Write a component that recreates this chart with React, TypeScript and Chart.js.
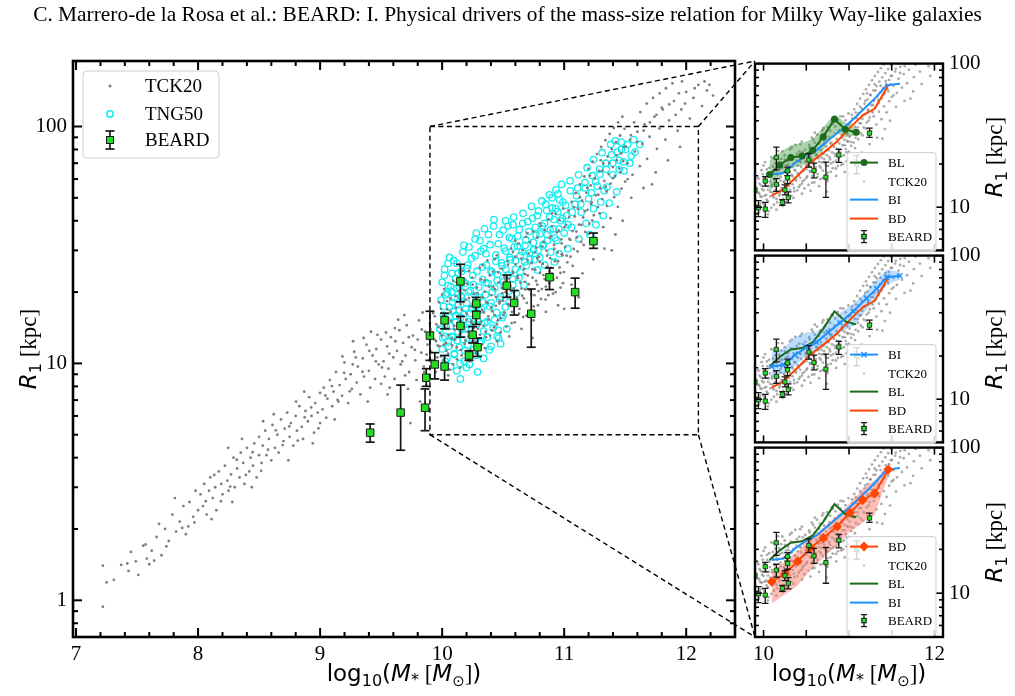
import React, { useEffect, useRef } from "react";
import { Chart, registerables } from "chart.js";

Chart.register(...registerables);

const SERIF = "'Liberation Serif', 'Times New Roman', serif";
const SANS = "'DejaVu Sans', 'Liberation Sans', sans-serif";

const FIGURE_TITLE =
  "C. Marrero-de la Rosa et al.: BEARD: I. Physical drivers of the mass-size relation for Milky Way-like galaxies";

// ---- axis ticks and ranges ----
const MAIN_MASS_TICKS = [7, 8, 9, 10, 11, 12];
const MAIN_RADIUS_TICKS = [1, 10, 100];
const ZOOM_MASS_TICKS = [10, 12];
const ZOOM_MASS_MARKS = [10, 10.5, 11, 11.5, 12];
const ZOOM_RADIUS_TICKS = [10, 100];

const MAIN_MASS_RANGE = [6.975, 12.4];
const MAIN_RADIUS_RANGE = [0.735, 189];
const ZOOM_MASS_RANGE = [9.9, 12.1];
const ZOOM_RADIUS_RANGE = [5, 100];

// ---- TCK20 sample: [log10 M*, R1 (kpc)] ----
const TCK20_LOW: [number, number][] = [
  [7.22, 0.94], [7.25, 1.19], [7.22, 1.4], [7.37, 1.41], [7.42, 1.43], [7.49, 1.46], [7.51, 1.28], [7.58, 1.5],
  [7.55, 1.7], [7.62, 1.62], [7.66, 1.85], [7.7, 1.55], [7.73, 2.0], [7.76, 1.78], [7.79, 2.3], [7.82, 1.95],
  [7.85, 2.15], [7.88, 2.5], [7.9, 1.9], [7.93, 2.6], [7.96, 2.25], [7.98, 2.9], [8.0, 2.4], [7.68, 2.1],
  [7.45, 1.6], [7.6, 1.42], [7.81, 2.7], [7.92, 2.05],
  [8.02, 2.8], [8.04, 2.5], [8.05, 3.1], [8.07, 2.3], [8.09, 2.9], [8.1, 3.3], [8.12, 2.7], [8.14, 3.0],
  [8.15, 2.4], [8.17, 3.5], [8.19, 3.1], [8.2, 2.8], [8.22, 3.7], [8.24, 3.2], [8.25, 2.9], [8.27, 3.4],
  [8.29, 4.0], [8.3, 3.0], [8.32, 3.6], [8.34, 3.3], [8.35, 4.2], [8.37, 3.8], [8.38, 3.1], [8.4, 4.4],
  [8.42, 3.5], [8.43, 4.0], [8.45, 3.7], [8.46, 4.6], [8.48, 3.3], [8.5, 4.1], [8.5, 4.9], [8.11, 2.2],
  [8.28, 2.6], [8.36, 4.8], [8.44, 3.0],
  [8.52, 3.8], [8.53, 4.5], [8.55, 5.2], [8.56, 4.1], [8.58, 4.8], [8.6, 3.9], [8.61, 5.5], [8.63, 4.4],
  [8.65, 5.0], [8.66, 4.2], [8.68, 5.8], [8.7, 4.7], [8.71, 5.3], [8.73, 6.2], [8.75, 4.9], [8.76, 5.6],
  [8.78, 4.5], [8.8, 6.0], [8.81, 5.2], [8.83, 6.6], [8.85, 5.4], [8.86, 4.8], [8.88, 6.3], [8.9, 5.7],
  [8.91, 7.2], [8.93, 6.0], [8.95, 5.1], [8.96, 6.8], [8.98, 6.2], [9.0, 7.5], [9.0, 5.6], [8.62, 6.1],
  [8.74, 3.9], [8.87, 7.6], [8.94, 4.6],
  [9.02, 6.4], [9.03, 7.9], [9.05, 5.9], [9.06, 7.1], [9.08, 8.5], [9.1, 6.6], [9.11, 7.6], [9.13, 9.2],
  [9.15, 6.9], [9.16, 8.1], [9.18, 7.3], [9.2, 10.1], [9.21, 8.6], [9.23, 6.8], [9.25, 9.0], [9.26, 7.8],
  [9.28, 11.2], [9.3, 8.3], [9.31, 9.7], [9.33, 7.4], [9.35, 10.5], [9.36, 8.8], [9.38, 12.0], [9.4, 9.3],
  [9.41, 7.9], [9.43, 10.8], [9.45, 8.6], [9.46, 11.5], [9.48, 9.9], [9.5, 12.6], [9.5, 8.2], [9.12, 5.8],
  [9.27, 12.4], [9.39, 6.9], [9.47, 13.2],
  [9.52, 10.2], [9.53, 8.8], [9.55, 11.8], [9.56, 9.5], [9.58, 12.9], [9.6, 10.6], [9.61, 8.6], [9.63, 11.3],
  [9.65, 13.8], [9.66, 9.9], [9.68, 12.2], [9.7, 10.8], [9.71, 14.5], [9.73, 9.2], [9.75, 11.7], [9.76, 13.1],
  [9.78, 10.3], [9.8, 12.6], [9.81, 15.2], [9.83, 11.1], [9.85, 9.7], [9.86, 13.6], [9.88, 12.0], [9.9, 10.4],
  [9.9, 14.8], [9.57, 7.9], [9.64, 15.3], [9.72, 7.8], [9.79, 8.5], [9.84, 16.4], [9.87, 8.1], [9.54, 13.5],
  [9.69, 16.0], [9.82, 6.9], [9.74, 5.6],
  [7.31, 1.22], [7.43, 1.33], [7.57, 1.72], [7.64, 1.47], [7.74, 1.69], [7.87, 2.02], [7.97, 2.13], [8.063, 2.62],
  [8.133, 3.38], [8.187, 2.62], [8.263, 3.02], [8.317, 3.92], [8.392, 3.38], [8.447, 4.22], [8.517, 3.52], [8.573, 4.32],
  [8.637, 5.22], [8.693, 4.52], [8.747, 5.42], [8.817, 4.72], [8.873, 5.92], [8.927, 6.52], [8.987, 5.32], [9.043, 7.32],
  [9.097, 8.02], [9.143, 7.02], [9.197, 9.12], [9.243, 7.62], [9.293, 10.6], [9.347, 9.22], [9.403, 11.3], [9.457, 10.2],
  [9.507, 9.62], [9.567, 11.0], [9.617, 12.4], [9.673, 10.2], [9.727, 12.9], [9.777, 11.4], [9.833, 13.9], [9.873, 10.9],
  [9.357, 12.8], [9.417, 13.6], [9.613, 14.1], [9.267, 9.9], [9.183, 10.7], [9.553, 7.4], [9.697, 8.9], [9.853, 9.2],
  [8.803, 6.9], [8.533, 5.7], [8.247, 4.4],
];

const TCK20_MID: [number, number][] = [
  [9.91, 11.2], [9.92, 13.5], [9.93, 9.8], [9.94, 15.8], [9.95, 12.4], [9.96, 10.6], [9.97, 14.2], [9.98, 11.8],
  [9.99, 17.0], [10.0, 13.1], [10.01, 10.3], [10.02, 15.0], [10.03, 12.2], [10.04, 18.3], [10.05, 11.0], [10.06, 14.0],
  [10.07, 16.5], [10.08, 12.8], [10.09, 9.9], [10.1, 13.9], [10.11, 19.2], [10.12, 11.7], [10.13, 15.6], [10.14, 13.0],
  [10.15, 17.8], [10.16, 10.8], [10.17, 14.7], [10.18, 20.4], [10.19, 12.5], [10.2, 16.2], [10.21, 13.6], [10.22, 18.9],
  [10.23, 11.4], [10.24, 15.1], [10.25, 21.5], [10.26, 14.1], [10.27, 17.3], [10.28, 12.3], [10.29, 19.8], [10.3, 15.7],
  [10.31, 13.2], [10.32, 22.6], [10.33, 16.8], [10.34, 14.4], [10.35, 20.1], [10.36, 12.9], [10.37, 18.0], [10.38, 15.3],
  [10.39, 23.5], [10.4, 17.2], [10.41, 13.8], [10.42, 21.0], [10.43, 16.0], [10.44, 19.1], [10.45, 14.6], [10.46, 24.2],
  [10.47, 17.9], [10.48, 15.5], [10.49, 20.8], [10.5, 18.4], [10.05, 8.9], [10.15, 9.6], [10.25, 10.9], [10.35, 11.6],
  [10.45, 12.4], [10.12, 22.0], [10.22, 24.5], [10.33, 26.0], [10.43, 27.5], [10.0, 19.5],
  [10.51, 16.4], [10.52, 22.5], [10.53, 19.2], [10.54, 26.1], [10.55, 17.6], [10.56, 21.3], [10.57, 14.8], [10.58, 24.0],
  [10.59, 19.9], [10.6, 28.2], [10.61, 18.1], [10.62, 22.9], [10.63, 16.2], [10.64, 25.6], [10.65, 20.7], [10.66, 30.0],
  [10.67, 18.8], [10.68, 23.8], [10.69, 15.9], [10.7, 27.3], [10.71, 21.6], [10.72, 32.5], [10.73, 19.5], [10.74, 25.0],
  [10.75, 17.4], [10.76, 29.4], [10.77, 22.3], [10.78, 34.0], [10.79, 20.2], [10.8, 26.8], [10.81, 18.7], [10.82, 31.2],
  [10.83, 23.6], [10.84, 36.5], [10.85, 21.1], [10.86, 28.5], [10.87, 19.4], [10.88, 33.8], [10.89, 25.3], [10.9, 38.0],
  [10.91, 22.6], [10.92, 30.4], [10.93, 20.0], [10.94, 35.7], [10.95, 27.0], [10.96, 40.2], [10.97, 24.1], [10.98, 32.1],
  [10.99, 21.8], [11.0, 37.5], [10.55, 13.0], [10.65, 14.0], [10.75, 15.2], [10.85, 16.5], [10.95, 17.6], [10.6, 33.0],
  [10.7, 35.5], [10.8, 39.0], [10.9, 43.0], [10.58, 29.5], [10.68, 20.5], [10.78, 27.8], [10.88, 24.4], [10.98, 28.9],
  [10.74, 12.8], [11.0, 17.0],
  [9.905, 13.9], [9.917, 10.1], [9.926, 16.3], [9.938, 12.6], [9.947, 9.2], [9.953, 14.6], [9.964, 11.9], [9.976, 18.1],
  [9.983, 13.4], [9.991, 10.7], [10.004, 15.9], [10.013, 12.0], [10.018, 20.6], [10.027, 14.1], [10.036, 11.3], [10.043, 16.9],
  [10.052, 13.2], [10.061, 9.4], [10.066, 18.8], [10.074, 15.1], [10.083, 11.9], [10.091, 22.3], [10.097, 14.4], [10.106, 12.6],
  [10.114, 17.2], [10.122, 10.4], [10.128, 15.7], [10.137, 20.2], [10.145, 13.3], [10.153, 11.4], [10.161, 16.9], [10.168, 24.6],
  [10.176, 14.2], [10.184, 12.1], [10.193, 18.6], [10.199, 15.3], [10.207, 21.7], [10.216, 13.0], [10.224, 10.2], [10.232, 17.4],
  [10.239, 14.9], [10.247, 23.0], [10.256, 12.4], [10.263, 19.6], [10.271, 16.1], [10.278, 11.0], [10.286, 20.9], [10.294, 14.0],
  [10.302, 17.6], [10.309, 25.3], [10.317, 15.0], [10.325, 12.0], [10.332, 19.0], [10.341, 16.4], [10.348, 22.4], [10.356, 13.6],
  [10.364, 18.2], [10.371, 27.2], [10.379, 15.8], [10.387, 21.1], [10.394, 13.1], [10.402, 19.4], [10.41, 16.6], [10.418, 24.4],
  [10.425, 14.2], [10.433, 20.6], [10.441, 17.5], [10.448, 28.6], [10.456, 15.2], [10.463, 22.0], [10.471, 18.3], [10.479, 13.5],
  [10.487, 25.1], [10.494, 19.8], [10.502, 16.0], [10.511, 23.1], [10.518, 20.0], [10.526, 14.3], [10.534, 27.0], [10.541, 17.8],
  [10.549, 22.8], [10.557, 19.1], [10.564, 30.5], [10.572, 16.5], [10.579, 24.4], [10.587, 20.7], [10.595, 14.9], [10.602, 26.2],
  [10.611, 18.9], [10.618, 23.3], [10.626, 32.0], [10.633, 17.0], [10.641, 21.9], [10.649, 27.7], [10.656, 19.3], [10.664, 15.7],
  [10.672, 25.0], [10.679, 22.1], [10.687, 34.2], [10.694, 18.0], [10.702, 23.5], [10.709, 29.1], [10.717, 20.4], [10.725, 16.6],
  [10.733, 26.5], [10.741, 23.0], [10.748, 36.0], [10.756, 19.4], [10.763, 24.9], [10.771, 30.8], [10.779, 21.5], [10.786, 17.6],
  [10.794, 28.2], [10.802, 24.1], [10.809, 38.0], [10.817, 20.6], [10.825, 26.3], [10.832, 32.6], [10.84, 22.7], [10.848, 18.6],
  [10.855, 29.9], [10.863, 25.6], [10.871, 40.5], [10.878, 21.8], [10.886, 27.8], [10.894, 34.4], [10.901, 24.0], [10.909, 19.7],
  [10.917, 31.6], [10.924, 27.0], [10.932, 42.8], [10.94, 23.0], [10.947, 29.4], [10.955, 36.3], [10.963, 25.4], [10.97, 20.9],
  [10.978, 33.4], [10.986, 28.6], [10.993, 45.0], [10.998, 24.3],
];

const TCK20_HIGH: [number, number][] = [
  [11.02, 28.5], [11.04, 41.5], [11.05, 33.2], [11.07, 25.8], [11.08, 45.6], [11.1, 36.0], [11.11, 29.7], [11.13, 50.2],
  [11.14, 38.4], [11.16, 31.6], [11.17, 43.9], [11.19, 55.0], [11.2, 35.2], [11.22, 47.0], [11.23, 40.1], [11.25, 60.3],
  [11.26, 33.9], [11.28, 51.5], [11.29, 43.0], [11.31, 65.0], [11.32, 37.6], [11.34, 55.8], [11.35, 46.2], [11.37, 70.1],
  [11.38, 41.0], [11.4, 60.5], [11.41, 50.3], [11.43, 75.5], [11.44, 45.8], [11.46, 64.0], [11.47, 54.7], [11.49, 82.0],
  [11.5, 58.5], [11.06, 21.5], [11.15, 24.0], [11.24, 27.5], [11.33, 30.5], [11.42, 35.0], [11.12, 19.0], [11.21, 62.0],
  [11.3, 72.0], [11.39, 30.0], [11.48, 40.0],
  [11.52, 70.0], [11.54, 88.0], [11.56, 62.5], [11.58, 78.5], [11.6, 95.0], [11.62, 68.0], [11.64, 84.5], [11.66, 102.0],
  [11.68, 73.0], [11.7, 90.5], [11.72, 57.0], [11.74, 110.0], [11.76, 80.5], [11.78, 98.0], [11.8, 120.0], [11.83, 88.0],
  [11.86, 106.0], [11.9, 128.0], [11.93, 96.0], [11.96, 118.0], [12.0, 140.0], [12.03, 108.0], [12.06, 132.0], [12.1, 150.0],
  [12.13, 122.0], [12.17, 142.0], [12.22, 135.0], [11.55, 50.0], [11.65, 55.0], [11.75, 64.0], [11.85, 72.0], [11.95, 82.0],
  [11.008, 31.0], [11.017, 38.4], [11.026, 26.7], [11.035, 44.1], [11.043, 33.5], [11.052, 28.2], [11.061, 48.0], [11.069, 36.2],
  [11.078, 30.4], [11.087, 41.7], [11.095, 52.3], [11.104, 34.0], [11.113, 45.0], [11.121, 38.5], [11.13, 57.0], [11.139, 32.6],
  [11.147, 48.6], [11.156, 41.3], [11.165, 61.5], [11.173, 35.9], [11.182, 52.5], [11.191, 44.5], [11.199, 66.2], [11.208, 38.9],
  [11.217, 56.4], [11.225, 47.8], [11.234, 71.0], [11.243, 42.2], [11.251, 60.6], [11.26, 51.2], [11.269, 76.5], [11.277, 45.7],
  [11.286, 65.0], [11.295, 54.9], [11.303, 82.0], [11.312, 49.4], [11.321, 69.8], [11.329, 58.9], [11.338, 87.5], [11.347, 53.2],
  [11.355, 74.8], [11.364, 63.0], [11.373, 93.0], [11.381, 57.4], [11.39, 80.2], [11.399, 67.4], [11.407, 98.5], [11.416, 61.8],
  [11.425, 85.8], [11.433, 72.0], [11.442, 104.0], [11.451, 66.5], [11.459, 91.6], [11.468, 77.0], [11.477, 110.0], [11.485, 71.5],
  [11.494, 97.8], [11.503, 82.2], [11.52, 60.0], [11.547, 92.0], [11.573, 104.0], [11.598, 86.0], [11.624, 115.0], [11.651, 96.0],
  [11.677, 125.0], [11.703, 104.0], [11.729, 132.0], [11.756, 112.0], [11.782, 138.0], [11.808, 118.0], [11.834, 145.0], [11.861, 124.0],
  [11.887, 152.0], [11.913, 112.0], [11.94, 138.0], [11.966, 155.0], [11.99, 125.0], [12.07, 145.0], [12.15, 155.0], [12.19, 150.0],
];

const TCK20 = [...TCK20_LOW, ...TCK20_MID, ...TCK20_HIGH];

// ---- TNG50 sample: [log10 M*, R1 (kpc)] ----
const TNG50_A: [number, number][] = [
  [9.98, 14.0], [9.99, 18.5], [10.0, 11.5], [10.0, 22.0], [10.01, 16.0], [10.02, 13.0], [10.02, 25.0], [10.03, 19.5],
  [10.04, 10.5], [10.04, 15.2], [10.05, 21.3], [10.05, 12.3], [10.06, 17.3], [10.06, 28.0], [10.07, 14.4], [10.07, 9.7],
  [10.08, 20.0], [10.08, 24.0], [10.09, 12.9], [10.09, 16.6], [10.1, 11.0], [10.1, 18.9], [10.11, 22.8], [10.11, 14.9],
  [10.12, 9.3], [10.12, 26.5], [10.13, 13.6], [10.13, 17.7], [10.14, 20.9], [10.14, 11.7], [10.15, 8.6], [10.15, 15.6],
  [10.16, 24.5], [10.16, 19.0], [10.17, 12.6], [10.17, 29.5], [10.18, 16.2], [10.18, 10.2], [10.19, 21.8], [10.19, 14.0],
  [10.2, 18.0], [10.2, 9.6], [10.21, 26.0], [10.21, 12.0], [10.22, 15.0], [10.22, 31.0], [10.23, 20.3], [10.23, 10.9],
  [10.24, 17.0], [10.24, 13.3],
  [10.25, 23.5], [10.26, 11.4], [10.27, 19.3], [10.27, 28.5], [10.28, 14.6], [10.29, 9.2], [10.3, 21.0], [10.3, 16.8],
  [10.31, 33.0], [10.32, 12.4], [10.33, 25.5], [10.33, 18.2], [10.34, 10.5], [10.35, 14.8], [10.36, 29.0], [10.36, 21.9],
  [10.37, 12.9], [10.38, 35.0], [10.39, 17.4], [10.4, 24.6], [10.4, 11.8], [10.41, 20.0], [10.42, 38.0], [10.43, 15.3],
  [10.44, 27.0], [10.45, 13.0], [10.45, 22.4], [10.46, 32.0], [10.47, 18.7], [10.48, 12.1], [10.49, 25.8], [10.5, 36.5],
  [10.5, 16.0], [10.51, 21.2], [10.52, 29.8], [10.53, 14.0], [10.54, 23.6], [10.55, 34.0], [10.55, 18.1], [10.56, 27.4],
  [10.58, 38.5], [10.58, 21.5], [10.59, 31.0], [10.6, 25.0], [10.34, 30.5], [10.28, 35.5],
  [10.46, 13.8], [10.52, 40.0],
  [10.61, 19.8], [10.62, 34.5], [10.63, 23.0], [10.64, 28.5], [10.66, 39.0], [10.67, 21.4], [10.68, 31.5],
  [10.69, 25.9], [10.71, 36.0], [10.72, 27.6], [10.74, 41.0], [10.75, 30.2],
  [10.77, 34.8], [10.78, 24.8], [10.79, 44.0], [10.8, 28.0], [10.82, 38.0], [10.83, 31.8], [10.84, 26.0],
  [10.85, 47.0], [10.86, 35.0], [10.88, 41.5], [10.89, 29.5], [10.9, 50.0], [10.91, 37.0], [10.92, 26.8],
  [10.93, 45.0], [10.94, 33.0], [10.95, 52.0], [10.96, 29.0], [10.97, 40.0], [10.99, 48.0], [11.0, 35.5],
  [11.02, 42.0], [11.03, 30.5], [11.05, 53.5], [11.06, 37.5], [11.09, 47.0], [11.11, 55.0], [11.12, 33.5],
  [11.14, 43.5], [11.17, 58.0], [11.18, 39.0], [11.2, 49.5], [11.21, 35.0], [11.23, 62.0], [11.24, 45.0],
  [11.26, 38.5], [11.27, 56.0], [11.29, 66.0], [11.3, 48.0], [11.32, 42.0], [11.34, 70.0], [11.35, 55.5], [11.37, 47.5],
  [11.39, 76.0], [11.4, 62.5], [11.42, 87.0], [11.43, 53.0], [11.45, 72.0], [11.47, 80.0], [11.49, 65.0], [11.52, 84.0],
  [11.55, 75.0], [11.58, 78.0], [11.62, 84.0],
];

const TNG50_B: [number, number][] = [
  [10.005, 12.8], [10.012, 17.4], [10.019, 23.5], [10.026, 10.2], [10.033, 14.3], [10.041, 19.8], [10.048, 26.4], [10.055, 11.8],
  [10.063, 15.7], [10.071, 21.1], [10.078, 13.0], [10.086, 18.1], [10.094, 27.2], [10.101, 10.9], [10.109, 15.9], [10.117, 20.7],
  [10.124, 12.5], [10.132, 24.0], [10.14, 16.8], [10.147, 10.0], [10.155, 19.3], [10.163, 13.9], [10.171, 22.3], [10.178, 31.5],
  [10.186, 11.3], [10.194, 17.0], [10.201, 25.2], [10.209, 14.6], [10.217, 20.0], [10.224, 9.9], [10.232, 16.3], [10.24, 27.8],
  [10.247, 12.8], [10.255, 21.5], [10.263, 17.6], [10.27, 33.5], [10.278, 10.8], [10.286, 24.5], [10.293, 15.1], [10.301, 19.0],
  [10.309, 12.2], [10.317, 29.8], [10.324, 16.9], [10.332, 22.6], [10.34, 13.7], [10.347, 37.0], [10.355, 19.5], [10.363, 26.0],
  [10.37, 15.0], [10.378, 21.7], [10.386, 11.4], [10.393, 31.7], [10.401, 18.0], [10.409, 24.3], [10.417, 14.1], [10.424, 40.5],
  [10.432, 20.8], [10.44, 28.7], [10.447, 16.4], [10.455, 23.7], [10.463, 12.8], [10.47, 35.0], [10.478, 19.1], [10.486, 26.6],
  [10.493, 15.6], [10.501, 22.1], [10.509, 30.6], [10.517, 17.3], [10.524, 24.9], [10.54, 38.0], [10.547, 20.2],
  [10.555, 28.0], [10.571, 33.6], [10.578, 22.7], [10.586, 41.5], [10.601, 27.1],
  [10.617, 31.3], [10.632, 36.7], [10.64, 24.3], [10.655, 29.6], [10.663, 43.0],
  [10.678, 26.8], [10.686, 33.2], [10.702, 39.7], [10.717, 29.2], [10.733, 46.0],
  [10.748, 32.4], [10.756, 27.4], [10.763, 37.5], [10.779, 42.0], [10.787, 30.0],
  [10.802, 35.2], [10.817, 48.5], [10.825, 31.3], [10.84, 39.0], [10.856, 44.2],
  [10.863, 33.0], [10.879, 51.5], [10.886, 36.6], [10.902, 45.3], [10.917, 40.5],
  [10.925, 33.8], [10.933, 54.0], [10.948, 43.7], [10.956, 37.0], [10.963, 49.0], [10.979, 57.0],
  [10.986, 41.0], [11.013, 46.5], [11.031, 38.6], [11.048, 59.0], [11.066, 43.5], [11.101, 51.0],
  [11.118, 62.5], [11.136, 47.0], [11.171, 55.0], [11.188, 67.0], [11.223, 52.5], [11.241, 72.5],
  [11.258, 58.5], [11.293, 62.8], [11.311, 77.5], [11.328, 53.5], [11.346, 66.0], [11.381, 84.0],
  [11.398, 70.0], [11.433, 78.0], [11.451, 66.0], [11.468, 86.0], [11.486, 71.0], [11.503, 80.0], [11.538, 70.0],
  [11.57, 88.0],
];

const TNG50 = [...TNG50_A, ...TNG50_B];

// ---- BEARD galaxies: mass, R1 and its error range ----
const BEARD_MASS = [9.41, 9.66, 9.86, 9.87, 9.9, 9.94, 10.02, 10.02, 10.15, 10.15, 10.22, 10.25, 10.28, 10.28, 10.29, 10.53, 10.59, 10.73, 10.88, 11.09, 11.24];
const BEARD_R = [5.1, 6.2, 6.5, 8.7, 13.1, 9.9, 15.2, 9.7, 22.2, 14.4, 10.8, 13.2, 17.9, 16.0, 11.7, 21.3, 18.0, 16.2, 23.1, 20.0, 32.8];
const BEARD_R_LO = [4.65, 4.3, 5.2, 8.0, 10.3, 8.6, 14.0, 8.5, 18.2, 12.9, 10.3, 12.2, 16.6, 14.6, 10.7, 19.0, 16.0, 11.7, 20.5, 17.1, 30.6];
const BEARD_R_HI = [5.55, 8.1, 7.8, 9.5, 16.6, 11.1, 16.3, 10.8, 26.2, 15.8, 11.3, 14.3, 19.0, 17.6, 12.8, 23.6, 20.3, 20.6, 25.3, 22.9, 35.5];

// ---- binned relations: BL, BI, BD ----
const BL_MASS = [10.07, 10.19, 10.32, 10.45, 10.575, 10.7, 10.83, 10.957, 11.085];
const BL_R = [16.9, 19.7, 22.2, 22.7, 24.9, 31.0, 40.9, 34.8, 33.2];
const BL_R_LO = [12.7, 16.4, 18.7, 19.5, 21.3, 25.0, 33.2, 30.7, 31.6];
const BL_R_HI = [21.3, 24.0, 27.0, 28.0, 29.9, 36.0, 44.3, 38.8, 35.0];

const BI_MASS = [10.095, 10.23, 10.37, 10.505, 10.62, 10.758, 10.895, 11.05, 11.207, 11.324, 11.44, 11.596];
const BI_R = [16.9, 17.3, 20.3, 23.1, 24.9, 29.2, 34.1, 41.0, 50.4, 58.9, 70.6, 72.4];
const BI_R_LO = [14.0, 15.3, 17.0, 20.4, 22.0, 25.5, 29.0, 32.5, 42.0, 50.0, 63.0, 68.0];
const BI_R_HI = [21.5, 22.5, 27.0, 29.3, 29.3, 35.0, 40.0, 46.0, 56.0, 68.0, 80.0, 77.0];

const BD_MASS = [10.095, 10.25, 10.4, 10.55, 10.7, 10.86, 11.01, 11.16, 11.3, 11.46];
const BD_R = [12.0, 13.6, 16.6, 20.5, 23.9, 28.7, 35.7, 43.6, 48.4, 70.8];
const BD_R_LO = [8.5, 9.8, 11.3, 14.5, 17.5, 21.5, 26.5, 30.5, 34.4, 64.0];
const BD_R_HI = [14.2, 16.5, 19.4, 24.0, 28.0, 34.0, 41.3, 52.0, 60.0, 75.0];

// ---- styling ----
const GREY = "#7f7f7f";
const CYAN = "#10eef2";
const BEARD_GREEN = "#22dd22";
const SERIES: any = {
  BL: { mass: BL_MASS, r: BL_R, lo: BL_R_LO, hi: BL_R_HI, color: "#1c6b1c", band: "rgba(34,139,34,0.38)", marker: "circle", radius: 3.5 },
  BI: { mass: BI_MASS, r: BI_R, lo: BI_R_LO, hi: BI_R_HI, color: "#1e90ff", band: "rgba(30,144,255,0.3)", marker: "crossRot", radius: 3.5 },
  BD: { mass: BD_MASS, r: BD_R, lo: BD_R_LO, hi: BD_R_HI, color: "#ff4500", band: "rgba(250,128,114,0.5)", marker: "rectRot", radius: 5 },
};
const LEGEND_ORDER: any = {
  BL: ["BL", "TCK20", "BI", "BD", "BEARD"],
  BI: ["BI", "TCK20", "BL", "BD", "BEARD"],
  BD: ["BD", "TCK20", "BL", "BI", "BEARD"],
};

// ---- figure layout ----
const W = 1015;
const H = 696;
const MAIN_LEFT = 73;
const MAIN_TOP = 61;
const MAIN_RIGHT = 735;
const MAIN_BOTTOM = 637;
const PANEL_X0 = 755;
const PANEL_X1 = 943;
const PANEL_H = 192;
const PANEL_TOPS = [61, 253, 445];
const PANEL_CANVAS_LEFT = 745;
const PAD = 16;

const pts = (xs: number[], ys: number[]) => xs.map((x, i) => ({ x, y: ys[i] }));
const pairs = (arr: [number, number][]) => arr.map(([x, y]) => ({ x, y }));

function line(ctx: any, x0: number, y0: number, x1: number, y1: number) {
  ctx.beginPath();
  ctx.moveTo(x0, y0);
  ctx.lineTo(x1, y1);
  ctx.stroke();
}

type Seg = { t: string; font: string; dy?: number };
function drawRich(ctx: any, segs: Seg[], cx: number, cy: number, rot = 0) {
  ctx.save();
  ctx.translate(cx, cy);
  ctx.rotate(rot);
  ctx.textAlign = "left";
  ctx.textBaseline = "alphabetic";
  ctx.fillStyle = "#000";
  let total = 0;
  for (const s of segs) {
    ctx.font = s.font;
    total += ctx.measureText(s.t).width;
  }
  let x = -total / 2;
  for (const s of segs) {
    ctx.font = s.font;
    ctx.fillText(s.t, x, s.dy || 0);
    x += ctx.measureText(s.t).width;
  }
  ctx.restore();
}

const MASS_LABEL: Seg[] = [
  { t: "log", font: `23px ${SANS}` },
  { t: "10", font: `16px ${SANS}`, dy: 5 },
  { t: "(", font: `23px ${SANS}` },
  { t: "M", font: `italic 23px ${SANS}` },
  { t: "*", font: `16px ${SANS}`, dy: 4 },
  { t: " [", font: `23px ${SERIF}` },
  { t: "M", font: `italic 23px ${SANS}` },
  { t: "\u2299", font: `15px ${SANS}`, dy: 5 },
  { t: "]", font: `23px ${SERIF}` },
  { t: ")", font: `23px ${SANS}` },
];
const RADIUS_LABEL: Seg[] = [
  { t: "R", font: `italic 23px ${SANS}` },
  { t: "1", font: `16px ${SANS}`, dy: 5 },
  { t: " [kpc]", font: `23px ${SERIF}` },
];

function drawErrorBars(chart: any, cap: number, lw: number) {
  const { ctx, chartArea: a, scales } = chart;
  ctx.save();
  ctx.beginPath();
  ctx.rect(a.left, a.top, a.right - a.left, a.bottom - a.top);
  ctx.clip();
  ctx.strokeStyle = "#151515";
  ctx.lineWidth = lw;
  BEARD_MASS.forEach((m, i) => {
    const px = scales.x.getPixelForValue(m);
    const p1 = scales.y.getPixelForValue(BEARD_R_LO[i]);
    const p2 = scales.y.getPixelForValue(BEARD_R_HI[i]);
    line(ctx, px, p1, px, p2);
    line(ctx, px - cap, p1, px + cap, p1);
    line(ctx, px - cap, p2, px + cap, p2);
  });
  ctx.restore();
}

function drawBeardKey(ctx: any, x: number, y: number, half: number, cap: number, side: number, lw: number) {
  ctx.strokeStyle = "#151515";
  ctx.lineWidth = lw;
  line(ctx, x, y - half, x, y + half);
  line(ctx, x - cap, y - half, x + cap, y - half);
  line(ctx, x - cap, y + half, x + cap, y + half);
  ctx.fillStyle = BEARD_GREEN;
  ctx.fillRect(x - side / 2, y - side / 2, side, side);
  ctx.lineWidth = 1;
  ctx.strokeRect(x - side / 2, y - side / 2, side, side);
}

function roundBox(ctx: any, x0: number, y0: number, x1: number, y1: number, r: number) {
  ctx.beginPath();
  ctx.moveTo(x0 + r, y0);
  ctx.arcTo(x1, y0, x1, y1, r);
  ctx.arcTo(x1, y1, x0, y1, r);
  ctx.arcTo(x0, y1, x0, y0, r);
  ctx.arcTo(x0, y0, x1, y0, r);
  ctx.closePath();
  ctx.fillStyle = "rgba(255,255,255,0.82)";
  ctx.fill();
  ctx.strokeStyle = "#cfcfcf";
  ctx.lineWidth = 1;
  ctx.stroke();
}

// Inward tick marks on all four sides of a chart area, plus the frame
function drawFrameTicks(chart: any, xMarks: { v: number; len: number }[], yMarks: { v: number; len: number }[], lw: number, frameLw: number) {
  const { ctx, chartArea: a, scales } = chart;
  ctx.save();
  ctx.strokeStyle = "#000";
  ctx.lineWidth = lw;
  xMarks.forEach(({ v, len }) => {
    const p = scales.x.getPixelForValue(v);
    line(ctx, p, a.bottom, p, a.bottom - len);
    line(ctx, p, a.top, p, a.top + len);
  });
  yMarks.forEach(({ v, len }) => {
    const p = scales.y.getPixelForValue(v);
    line(ctx, a.left, p, a.left + len, p);
    line(ctx, a.right, p, a.right - len, p);
  });
  ctx.lineWidth = frameLw;
  ctx.strokeRect(a.left, a.top, a.right - a.left, a.bottom - a.top);
  ctx.restore();
}

function logMarks(min: number, max: number, major: number, minor: number) {
  const out: { v: number; len: number }[] = [];
  for (let e = -1; e <= 2; e++) {
    for (let m = 1; m <= 9; m++) {
      const v = m * Math.pow(10, e);
      if (v > min && v < max) out.push({ v, len: m === 1 ? major : minor });
    }
  }
  return out;
}

const mainDecor = {
  id: "mainDecor",
  beforeDatasetDraw(chart: any, args: any) {
    if (chart.data.datasets[args.index].label === "BEARD") drawErrorBars(chart, 4.5, 1.7);
  },
  afterDraw(chart: any) {
    const { ctx, scales } = chart;
    const xMarks: { v: number; len: number }[] = [];
    for (let k = 35; k <= 61; k++) xMarks.push({ v: k / 5, len: k % 5 === 0 ? 9 : 5 });
    drawFrameTicks(chart, xMarks, logMarks(MAIN_RADIUS_RANGE[0], MAIN_RADIUS_RANGE[1], 9, 5), 2, 2.6);

    // zoom region and its connectors to the side panels
    const bx0 = scales.x.getPixelForValue(ZOOM_MASS_RANGE[0]);
    const bx1 = scales.x.getPixelForValue(ZOOM_MASS_RANGE[1]);
    const by0 = scales.y.getPixelForValue(ZOOM_RADIUS_RANGE[1]);
    const by1 = scales.y.getPixelForValue(ZOOM_RADIUS_RANGE[0]);
    ctx.save();
    ctx.strokeStyle = "#000";
    ctx.lineWidth = 1.4;
    ctx.setLineDash([5, 3.5]);
    ctx.strokeRect(bx0, by0, bx1 - bx0, by1 - by0);
    const topY = PANEL_TOPS[0];
    const botY = PANEL_TOPS[2] + PANEL_H;
    line(ctx, bx0, by0, PANEL_X0, topY);
    line(ctx, bx1, by0, PANEL_X0, topY);
    line(ctx, bx0, by1, PANEL_X0, botY);
    line(ctx, bx1, by1, PANEL_X0, botY);
    ctx.restore();

    // legend
    ctx.save();
    roundBox(ctx, 83, 71, 219, 158, 4);
    ctx.fillStyle = GREY;
    ctx.beginPath();
    ctx.arc(110, 86, 1.5, 0, Math.PI * 2);
    ctx.fill();
    ctx.strokeStyle = CYAN;
    ctx.lineWidth = 1.5;
    ctx.beginPath();
    ctx.arc(110, 114, 3.2, 0, Math.PI * 2);
    ctx.stroke();
    drawBeardKey(ctx, 110, 140, 9, 4.5, 7, 1.7);
    ctx.fillStyle = "#000";
    ctx.font = `19px ${SERIF}`;
    ctx.textBaseline = "middle";
    ctx.textAlign = "left";
    ctx.fillText("TCK20", 145, 87);
    ctx.fillText("TNG50", 145, 115);
    ctx.fillText("BEARD", 145, 141);
    ctx.restore();

    // titles
    ctx.save();
    ctx.fillStyle = "#000";
    ctx.font = `21.4px ${SERIF}`;
    ctx.textAlign = "center";
    ctx.textBaseline = "alphabetic";
    ctx.fillText(FIGURE_TITLE, W / 2, 21);
    ctx.restore();
    drawRich(ctx, MASS_LABEL, (MAIN_LEFT + MAIN_RIGHT) / 2, 681);
    drawRich(ctx, RADIUS_LABEL, 36, (MAIN_TOP + MAIN_BOTTOM) / 2, -Math.PI / 2);
  },
};

const panelDecor = {
  id: "panelDecor",
  beforeDatasetDraw(chart: any, args: any) {
    if (chart.data.datasets[args.index].label === "BEARD") drawErrorBars(chart, 3.2, 1.3);
  },
  afterDraw(chart: any, _args: any, opts: any) {
    const { ctx, chartArea: a } = chart;
    drawFrameTicks(
      chart,
      ZOOM_MASS_MARKS.map((v) => ({ v, len: 7 })),
      logMarks(ZOOM_RADIUS_RANGE[0], ZOOM_RADIUS_RANGE[1] + 1, 7, 4),
      1.6,
      2.4
    );

    // legend
    const lx0 = a.left + 92;
    const lx1 = a.left + 181;
    const top = a.top;
    ctx.save();
    roundBox(ctx, lx0, top + 89, lx1, top + 188, 3);
    const rows = [99, 118, 136, 155, 173];
    const mx = lx0 + 17;
    LEGEND_ORDER[opts.featured].forEach((key: string, i: number) => {
      const y = top + rows[i];
      if (SERIES[key]) {
        const s = SERIES[key];
        ctx.strokeStyle = s.color;
        ctx.lineWidth = 2;
        line(ctx, lx0 + 3, y, lx0 + 31, y);
        if (key === opts.featured) {
          ctx.fillStyle = s.color;
          ctx.beginPath();
          if (s.marker === "circle") {
            ctx.arc(mx, y, s.radius, 0, Math.PI * 2);
            ctx.fill();
          } else if (s.marker === "rectRot") {
            ctx.moveTo(mx, y - s.radius);
            ctx.lineTo(mx + s.radius, y);
            ctx.lineTo(mx, y + s.radius);
            ctx.lineTo(mx - s.radius, y);
            ctx.closePath();
            ctx.fill();
          } else {
            const r = s.radius * 0.75;
            ctx.lineWidth = 1.5;
            line(ctx, mx - r, y - r, mx + r, y + r);
            line(ctx, mx - r, y + r, mx + r, y - r);
          }
        }
      } else if (key === "TCK20") {
        ctx.fillStyle = "rgba(128,128,128,0.6)";
        ctx.beginPath();
        ctx.arc(mx, y, 1, 0, Math.PI * 2);
        ctx.fill();
      } else {
        drawBeardKey(ctx, mx, y, 6, 3, 4.5, 1.3);
      }
      ctx.fillStyle = "#000";
      ctx.font = `13px ${SERIF}`;
      ctx.textAlign = "left";
      ctx.textBaseline = "middle";
      ctx.fillText(key, lx0 + 41, y + 1);
    });
    ctx.restore();

    drawRich(ctx, RADIUS_LABEL, a.right + 59, (a.top + a.bottom) / 2, -Math.PI / 2);
    if (opts.showMass) drawRich(ctx, MASS_LABEL, (a.left + a.right) / 2, a.bottom + 44);
  },
};

const tickFont = { family: SERIF, size: 21 };

function mainConfig(): any {
  return {
    type: "scatter",
    data: {
      datasets: [
        {
          label: "BEARD",
          data: pts(BEARD_MASS, BEARD_R),
          pointStyle: "rect",
          pointRadius: 5.3,
          backgroundColor: BEARD_GREEN,
          borderColor: "#1a1a1a",
          borderWidth: 1,
          order: 0,
        },
        {
          label: "TCK20",
          data: pairs(TCK20),
          pointRadius: 1.4,
          backgroundColor: GREY,
          borderWidth: 0,
          order: 1,
        },
        {
          label: "TNG50",
          data: pairs(TNG50),
          pointStyle: "circle",
          pointRadius: 3.2,
          backgroundColor: "rgba(0,0,0,0)",
          borderColor: CYAN,
          borderWidth: 1.3,
          order: 2,
        },
      ],
    },
    options: {
      responsive: false,
      animation: false,
      events: [],
      layout: { padding: { top: MAIN_TOP, right: W - MAIN_RIGHT, left: 0, bottom: 0 } },
      plugins: { legend: { display: false }, tooltip: { enabled: false } },
      scales: {
        x: {
          type: "linear",
          min: MAIN_MASS_RANGE[0],
          max: MAIN_MASS_RANGE[1],
          grid: { display: false, drawTicks: false },
          border: { display: false },
          afterBuildTicks: (s: any) => {
            s.ticks = MAIN_MASS_TICKS.map((v) => ({ value: v }));
          },
          afterFit: (s: any) => {
            s.height = H - MAIN_BOTTOM;
          },
          ticks: { font: tickFont, color: "#000", padding: 5, autoSkip: false, maxRotation: 0, callback: (v: any) => String(v) },
        },
        y: {
          type: "logarithmic",
          min: MAIN_RADIUS_RANGE[0],
          max: MAIN_RADIUS_RANGE[1],
          grid: { display: false, drawTicks: false },
          border: { display: false },
          afterBuildTicks: (s: any) => {
            s.ticks = MAIN_RADIUS_TICKS.map((v) => ({ value: v }));
          },
          afterFit: (s: any) => {
            s.width = MAIN_LEFT;
          },
          ticks: { font: tickFont, color: "#000", padding: 6, autoSkip: false, callback: (v: any) => String(v) },
        },
      },
    },
    plugins: [mainDecor],
  };
}

function panelConfig(featured: string, showMass: boolean): any {
  const f = SERIES[featured];
  const others = LEGEND_ORDER[featured].filter((k: string) => SERIES[k] && k !== featured);
  const datasets: any[] = [
    {
      label: "BEARD",
      data: pts(BEARD_MASS, BEARD_R),
      showLine: false,
      pointStyle: "rect",
      pointRadius: 3,
      backgroundColor: BEARD_GREEN,
      borderColor: "#1a1a1a",
      borderWidth: 0.8,
      order: 1,
    },
    {
      label: featured,
      data: pts(f.mass, f.r),
      borderColor: f.color,
      backgroundColor: f.color,
      borderWidth: 2,
      pointStyle: f.marker,
      pointRadius: f.radius,
      pointBorderWidth: f.marker === "crossRot" ? 1.5 : 0,
      pointBorderColor: f.color,
      tension: 0,
      fill: false,
      order: 3,
    },
    ...others.map((k: string, i: number) => ({
      label: k,
      data: pts(SERIES[k].mass, SERIES[k].r),
      borderColor: SERIES[k].color,
      borderWidth: 2,
      pointRadius: 0,
      tension: 0,
      fill: false,
      order: 4 + i,
    })),
    {
      label: featured + " upper",
      data: pts(f.mass, f.hi),
      borderWidth: 0,
      pointRadius: 0,
      backgroundColor: f.band,
      fill: "+1",
      tension: 0,
      order: 7,
    },
    {
      label: featured + " lower",
      data: pts(f.mass, f.lo),
      borderWidth: 0,
      pointRadius: 0,
      fill: false,
      tension: 0,
      order: 8,
    },
    {
      label: "TCK20",
      data: pairs(TCK20),
      showLine: false,
      pointRadius: 1.4,
      backgroundColor: "rgba(128,128,128,0.65)",
      borderWidth: 0,
      order: 10,
    },
  ];
  return {
    type: "line",
    data: { datasets },
    options: {
      responsive: false,
      animation: false,
      events: [],
      layout: { padding: { top: PAD, left: PANEL_X0 - PANEL_CANVAS_LEFT, right: 0, bottom: 0 } },
      plugins: { legend: { display: false }, tooltip: { enabled: false }, panelDecor: { featured, showMass } },
      scales: {
        x: {
          type: "linear",
          min: ZOOM_MASS_RANGE[0],
          max: ZOOM_MASS_RANGE[1],
          grid: { display: false, drawTicks: false },
          border: { display: false },
          afterBuildTicks: (s: any) => {
            s.ticks = ZOOM_MASS_TICKS.map((v) => ({ value: v }));
          },
          afterFit: (s: any) => {
            s.height = showMass ? H - MAIN_BOTTOM : PAD;
          },
          ticks: { display: showMass, font: tickFont, color: "#000", padding: 5, autoSkip: false, maxRotation: 0, callback: (v: any) => String(v) },
        },
        y: {
          type: "logarithmic",
          position: "right",
          min: ZOOM_RADIUS_RANGE[0],
          max: ZOOM_RADIUS_RANGE[1],
          grid: { display: false, drawTicks: false },
          border: { display: false },
          afterBuildTicks: (s: any) => {
            s.ticks = ZOOM_RADIUS_TICKS.map((v) => ({ value: v }));
          },
          afterFit: (s: any) => {
            s.width = W - PANEL_X1;
          },
          ticks: { font: tickFont, color: "#000", padding: 6, autoSkip: false, callback: (v: any) => String(v) },
        },
      },
    },
    plugins: [panelDecor],
  };
}

const PANELS = [
  { featured: "BL", showMass: false },
  { featured: "BI", showMass: false },
  { featured: "BD", showMass: true },
];

export default function App() {
  const mainRef = useRef<HTMLCanvasElement>(null);
  const p0 = useRef<HTMLCanvasElement>(null);
  const p1 = useRef<HTMLCanvasElement>(null);
  const p2 = useRef<HTMLCanvasElement>(null);
  const panelRefs = [p0, p1, p2];

  useEffect(() => {
    const charts = [new Chart(mainRef.current as any, mainConfig())];
    PANELS.forEach((p, i) => {
      charts.push(new Chart(panelRefs[i].current as any, panelConfig(p.featured, p.showMass)));
    });
    return () => charts.forEach((c) => c.destroy());
  }, []);

  return (
    <div style={{ position: "fixed", left: 0, top: 0, width: W, height: H, background: "#fff", overflow: "hidden" }}>
      <canvas ref={mainRef} width={W} height={H} style={{ position: "absolute", left: 0, top: 0 }} />
      {PANELS.map((p, i) => {
        const top = PANEL_TOPS[i] - PAD;
        const height = PAD + PANEL_H + (p.showMass ? H - MAIN_BOTTOM : PAD);
        return (
          <canvas
            key={p.featured}
            ref={panelRefs[i]}
            width={W - PANEL_CANVAS_LEFT}
            height={height}
            style={{ position: "absolute", left: PANEL_CANVAS_LEFT, top }}
          />
        );
      })}
    </div>
  );
}
